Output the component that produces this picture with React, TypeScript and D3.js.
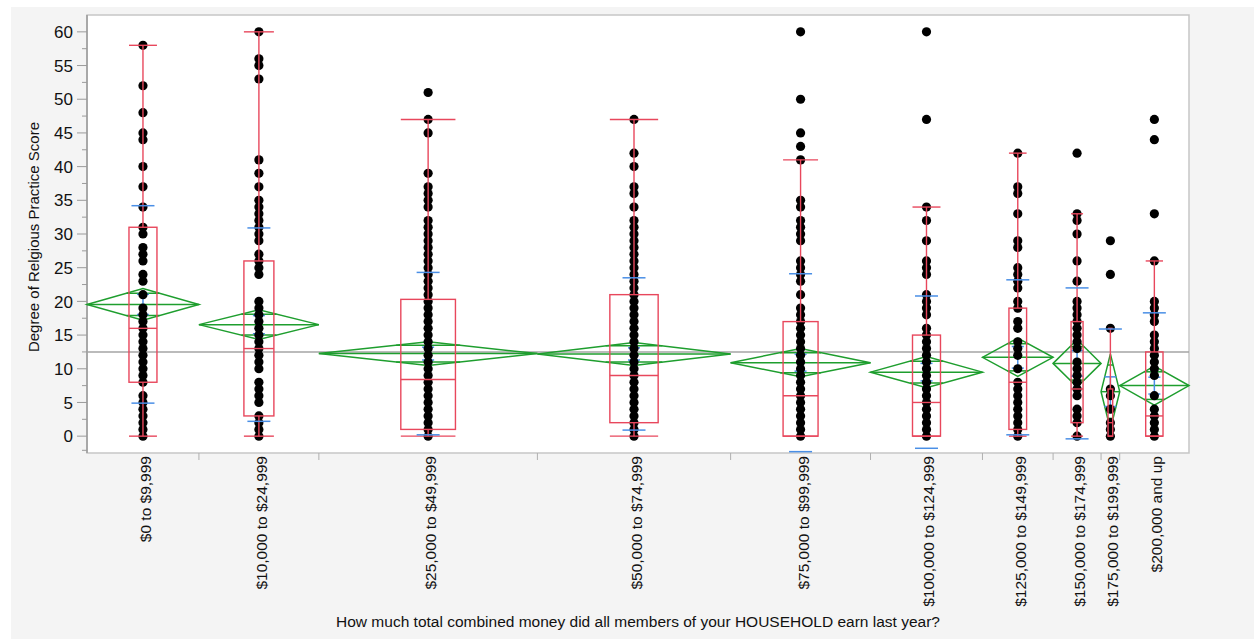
import React, { useEffect, useRef } from "react";
import * as d3 from "d3";

const width = 1254;
const height = 639;

const categories = [
    "$0 to $9,999",
    "$10,000 to $24,999",
    "$25,000 to $49,999",
    "$50,000 to $74,999",
    "$75,000 to $99,999",
    "$100,000 to $124,999",
    "$125,000 to $149,999",
    "$150,000 to $174,999",
    "$175,000 to $199,999",
    "$200,000 and up",
];

// group sizes (x axis is proportional to n)
const counts = [84, 90, 164, 145, 105, 84, 53, 36, 14, 52];

// means diamonds
const means = [19.55, 16.55, 12.25, 12.2, 10.9, 9.5, 11.7, 10.8, 6.6, 7.5];
const ciHalf = [2.35, 2.2, 1.75, 1.7, 2.1, 2.3, 2.85, 3.5, 5.6, 2.9];

// std dev lines and mean error bars
const stdDevs = [14.65, 14.35, 12.05, 11.3, 13.2, 11.3, 11.5, 11.2, 9.3, 10.8];
const stdErrs = [1.5, 1.35, 0.95, 0.9, 1.25, 1.3, 1.6, 1.9, 2.2, 1.25];

// box plots
const whiskerLow = [0, 0, 0, 0, 0, 0, 0, 0, 0, 0];
const q1 = [8, 3, 1, 2, 0, 0, 1, 2, 0, 0];
const medians = [16, 13, 8.4, 9, 6, 5, 8, 7, 2, 3];
const q3 = [31, 26, 20.3, 21, 17, 15, 19, 17, 7, 12.5];
const whiskerHigh = [58, 60, 47, 47, 41, 34, 42, 33, 16, 26];

const grandMean = 12.5;

// observed scores (distinct values per group)
const points: number[][] = [
    [58, 52, 48, 45, 44, 40, 37, 34, 31, 30, 28, 27, 26, 24, 23, 21, 19, 18, 17, 16, 15, 14, 13, 12, 11, 10, 9, 8, 6, 5, 4, 3, 2, 1, 0],
    [60, 56, 55, 53, 41, 39, 37, 35, 34, 33, 32, 31, 30, 29, 27, 26, 25, 24, 20, 19, 18, 17, 16, 15, 14, 13, 12, 11, 10, 8, 7, 6, 5, 3, 2, 1, 0],
    [51, 47, 45, 39, 37, 36, 35, 34, 32, 31, 30, 29, 28, 27, 26, 25, 24, 23, 22, 21, 20, 19, 18, 17, 16, 15, 14, 13, 12, 11, 10, 9, 8, 7, 6, 5, 4, 3, 2, 1, 0],
    [47, 42, 40, 37, 36, 34, 32, 31, 30, 29, 28, 27, 26, 25, 24, 23, 22, 21, 20, 19, 18, 17, 16, 15, 14, 13, 12, 11, 10, 9, 8, 7, 6, 5, 4, 3, 2, 1, 0],
    [60, 50, 45, 43, 41, 35, 34, 32, 31, 30, 29, 26, 25, 24, 23, 21, 19, 18, 17, 16, 15, 14, 13, 12, 11, 10, 9, 8, 7, 6, 5, 4, 3, 2, 1, 0],
    [60, 47, 34, 32, 29, 26, 25, 24, 21, 20, 19, 18, 16, 15, 14, 13, 12, 11, 10, 9, 8, 7, 6, 5, 4, 3, 2, 1, 0],
    [42, 37, 36, 33, 29, 28, 25, 24, 23, 22, 20, 19, 17, 16, 14, 13, 12, 10, 8, 7, 6, 5, 4, 3, 2, 1, 0],
    [42, 33, 32, 30, 26, 23, 20, 19, 18, 17, 16, 15, 14, 13, 11, 10, 9, 8, 7, 6, 4, 3, 2, 0],
    [29, 24, 16, 7, 6, 4, 2, 1, 0],
    [47, 44, 33, 26, 20, 19, 18, 17, 15, 14, 13, 12, 11, 10, 9, 6, 4, 3, 2, 1, 0],
];

const yMajorTicks = [0, 5, 10, 15, 20, 25, 30, 35, 40, 45, 50, 55, 60];

const plot = { left: 87, right: 1189, top: 15, bottom: 453 };

const RED = "#e8475c";
const GREEN = "#1e9e2e";
const BLUE = "#4a8fe6";
const FONT = "'Liberation Sans', Arial, Helvetica, sans-serif";

export default function App() {
    const ref = useRef<SVGSVGElement>(null);

    useEffect(() => {
        const svg = d3.select(ref.current);
        svg.selectAll("*").remove();

        const y = d3.scaleLinear().domain([-2.5, 62.5]).range([plot.bottom, plot.top]);
        const total = d3.sum(counts);
        const x = d3.scaleLinear().domain([0, total]).range([plot.left, plot.right]);
        const starts = [0, ...d3.cumsum(counts)];

        const groups = categories.map((c, i) => {
            const x0 = x(starts[i]);
            const x1 = x(starts[i] + counts[i]);
            return { name: c, i, x0, x1, xc: (x0 + x1) / 2, w: x1 - x0 };
        });

        // panel background
        svg.append("rect")
            .attr("x", 11).attr("y", 7)
            .attr("width", width - 11).attr("height", height - 7)
            .attr("fill", "#f4f4f4");

        svg.append("rect")
            .attr("x", plot.left).attr("y", plot.top)
            .attr("width", plot.right - plot.left).attr("height", plot.bottom - plot.top)
            .attr("fill", "white")
            .attr("stroke", "#c6c6c6")
            .attr("stroke-width", 1.5);

        // y axis
        const yAxis = svg.append("g");
        yAxis.append("line")
            .attr("x1", plot.left).attr("x2", plot.left)
            .attr("y1", plot.top).attr("y2", plot.bottom)
            .attr("stroke", "#9a9a9a").attr("stroke-width", 1.5);

        yAxis.selectAll(".major")
            .data(yMajorTicks)
            .join("line")
            .attr("x1", plot.left - 10).attr("x2", plot.left)
            .attr("y1", d => y(d)).attr("y2", d => y(d))
            .attr("stroke", "#9a9a9a");

        yAxis.selectAll(".minor")
            .data(yMajorTicks.slice(0, -1).map(d => d + 2.5).concat([-2.5 + 0.4]))
            .join("line")
            .attr("x1", plot.left - 5).attr("x2", plot.left)
            .attr("y1", d => y(d)).attr("y2", d => y(d))
            .attr("stroke", "#9a9a9a");

        yAxis.selectAll("text")
            .data(yMajorTicks)
            .join("text")
            .attr("x", plot.left - 14)
            .attr("y", d => y(d))
            .attr("dy", "0.36em")
            .attr("text-anchor", "end")
            .attr("font-family", FONT)
            .attr("font-size", 17)
            .attr("fill", "#111")
            .text(d => d);

        svg.append("text")
            .attr("transform", `translate(39,${(plot.top + plot.bottom) / 2 + 3}) rotate(-90)`)
            .attr("text-anchor", "middle")
            .attr("font-family", FONT)
            .attr("font-size", 15)
            .attr("fill", "#111")
            .text("Degree of Relgious Practice Score");

        // x axis separators and labels
        svg.append("g")
            .selectAll("line")
            .data(groups.slice(1))
            .join("line")
            .attr("x1", d => d.x0).attr("x2", d => d.x0)
            .attr("y1", plot.bottom).attr("y2", plot.bottom + 7)
            .attr("stroke", "#b0b0b0");

        svg.append("g")
            .selectAll("text")
            .data(groups)
            .join("text")
            .attr("transform", d => `translate(${d.xc + 8},${plot.bottom + 3}) rotate(-90)`)
            .attr("text-anchor", "end")
            .attr("font-family", FONT)
            .attr("font-size", 15.5)
            .attr("fill", "#111")
            .text(d => d.name);

        svg.append("text")
            .attr("x", (plot.left + plot.right) / 2)
            .attr("y", 626.5)
            .attr("text-anchor", "middle")
            .attr("font-family", FONT)
            .attr("font-size", 15.5)
            .attr("fill", "#111")
            .text("How much total combined money did all members of your HOUSEHOLD earn last year?");

        const chart = svg.append("g");

        // grand mean
        chart.append("line")
            .attr("x1", plot.left).attr("x2", plot.right)
            .attr("y1", y(grandMean)).attr("y2", y(grandMean))
            .attr("stroke", "#a4a4a4").attr("stroke-width", 1.5);

        // means diamonds
        const diamond = chart.append("g")
            .attr("fill", "none")
            .attr("stroke", GREEN)
            .attr("stroke-width", 1.5)
            .selectAll("g")
            .data(groups)
            .join("g");

        diamond.append("path")
            .attr("d", d => {
                const m = means[d.i], h = ciHalf[d.i];
                return `M${d.x0},${y(m)}L${d.xc},${y(m + h)}L${d.x1},${y(m)}L${d.xc},${y(m - h)}Z`;
            });
        diamond.append("line")
            .attr("x1", d => d.x0).attr("x2", d => d.x1)
            .attr("y1", d => y(means[d.i])).attr("y2", d => y(means[d.i]));
        [1, -1].forEach(sign => {
            diamond.append("line")
                .attr("x1", d => d.xc - d.w / 2 * (1 - Math.SQRT1_2))
                .attr("x2", d => d.xc + d.w / 2 * (1 - Math.SQRT1_2))
                .attr("y1", d => y(means[d.i] + sign * ciHalf[d.i] * Math.SQRT1_2))
                .attr("y2", d => y(means[d.i] + sign * ciHalf[d.i] * Math.SQRT1_2));
        });

        // mean error bars
        const err = chart.append("g")
            .attr("stroke", BLUE)
            .attr("stroke-width", 1.5)
            .selectAll("g")
            .data(groups)
            .join("g");
        err.append("line")
            .attr("x1", d => d.xc).attr("x2", d => d.xc)
            .attr("y1", d => y(means[d.i] - stdErrs[d.i]))
            .attr("y2", d => y(means[d.i] + stdErrs[d.i]));
        [1, -1].forEach(sign => {
            err.append("line")
                .attr("x1", d => d.xc - 6).attr("x2", d => d.xc + 6)
                .attr("y1", d => y(means[d.i] + sign * stdErrs[d.i]))
                .attr("y2", d => y(means[d.i] + sign * stdErrs[d.i]));
        });

        // points
        chart.append("g")
            .selectAll("g")
            .data(groups)
            .join("g")
            .selectAll("circle")
            .data(d => points[d.i].map(v => ({ v, xc: d.xc })))
            .join("circle")
            .attr("cx", d => d.xc)
            .attr("cy", d => y(d.v))
            .attr("r", 4.6)
            .attr("fill", "black");

        // box plots
        const box = chart.append("g")
            .attr("fill", "none")
            .attr("stroke", RED)
            .attr("stroke-width", 1.4)
            .selectAll("g")
            .data(groups)
            .join("g");
        box.append("rect")
            .attr("x", d => d.xc - d.w * 0.125)
            .attr("width", d => d.w * 0.25)
            .attr("y", d => y(q3[d.i]))
            .attr("height", d => y(q1[d.i]) - y(q3[d.i]));
        box.append("line")
            .attr("x1", d => d.xc - d.w * 0.125).attr("x2", d => d.xc + d.w * 0.125)
            .attr("y1", d => y(medians[d.i])).attr("y2", d => y(medians[d.i]));
        box.append("line")
            .attr("x1", d => d.xc).attr("x2", d => d.xc)
            .attr("y1", d => y(q3[d.i])).attr("y2", d => y(whiskerHigh[d.i]));
        box.append("line")
            .attr("x1", d => d.xc).attr("x2", d => d.xc)
            .attr("y1", d => y(q1[d.i])).attr("y2", d => y(whiskerLow[d.i]));
        box.append("line")
            .attr("x1", d => d.xc - d.w * 0.125).attr("x2", d => d.xc + d.w * 0.125)
            .attr("y1", d => y(whiskerHigh[d.i])).attr("y2", d => y(whiskerHigh[d.i]));
        box.append("line")
            .attr("x1", d => d.xc - d.w * 0.125).attr("x2", d => d.xc + d.w * 0.125)
            .attr("y1", d => y(whiskerLow[d.i])).attr("y2", d => y(whiskerLow[d.i]));

        // std dev lines
        const [yMin, yMax] = y.domain();
        const sdData = groups.flatMap(d => [means[d.i] + stdDevs[d.i], means[d.i] - stdDevs[d.i]]
            .filter(v => v >= yMin && v <= yMax)
            .map(v => ({ v, xc: d.xc })));
        chart.append("g")
            .selectAll("line")
            .data(sdData)
            .join("line")
            .attr("x1", d => d.xc - 11.5).attr("x2", d => d.xc + 11.5)
            .attr("y1", d => y(d.v)).attr("y2", d => y(d.v))
            .attr("stroke", BLUE)
            .attr("stroke-width", 1.5);
    }, []);

    return (
        <svg ref={ref} width={width} height={height}
            style={{ position: "absolute", left: 0, top: 0, display: "block" }}>
        </svg>
    );
}
